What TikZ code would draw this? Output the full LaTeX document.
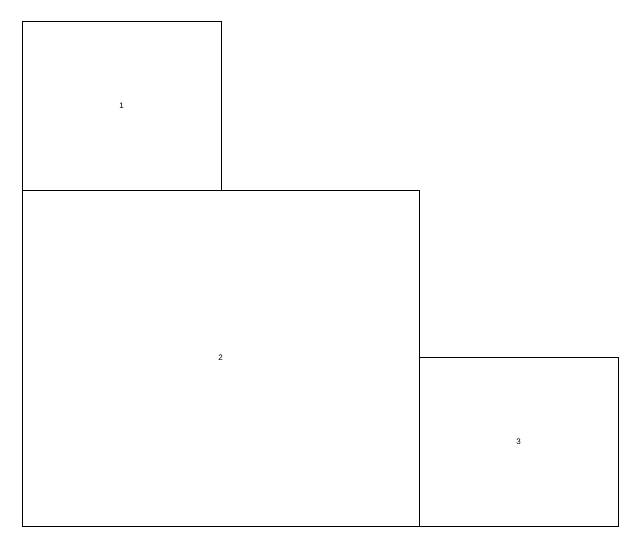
\documentclass[tikz,border=0pt]{standalone}
\usepackage{fontspec}
\setmainfont{Liberation Sans}
\usetikzlibrary{positioning}

\tikzstyle{block} = [
        draw,
        rectangle,
        line width=0.6pt,
        inner sep=0pt,
        outer sep=0pt,
        font=\fontsize{8}{9}\selectfont
    ]

\begin{document}
\begin{tikzpicture}[x=1pt, y=-1pt]
        \useasboundingbox (0,0) rectangle (640,549);
        \node(two) [block, minimum width=397pt, minimum height=336pt,
            anchor=north west] at (22,190) {2};
        \node(one) [block, minimum width=199pt, minimum height=169pt,
            anchor=south west] at (two.north west) {1};
        \node(three) [block, minimum width=199pt, minimum height=169pt,
            anchor=south west] at (two.south east) {3};
    \end{tikzpicture}
\end{document}
